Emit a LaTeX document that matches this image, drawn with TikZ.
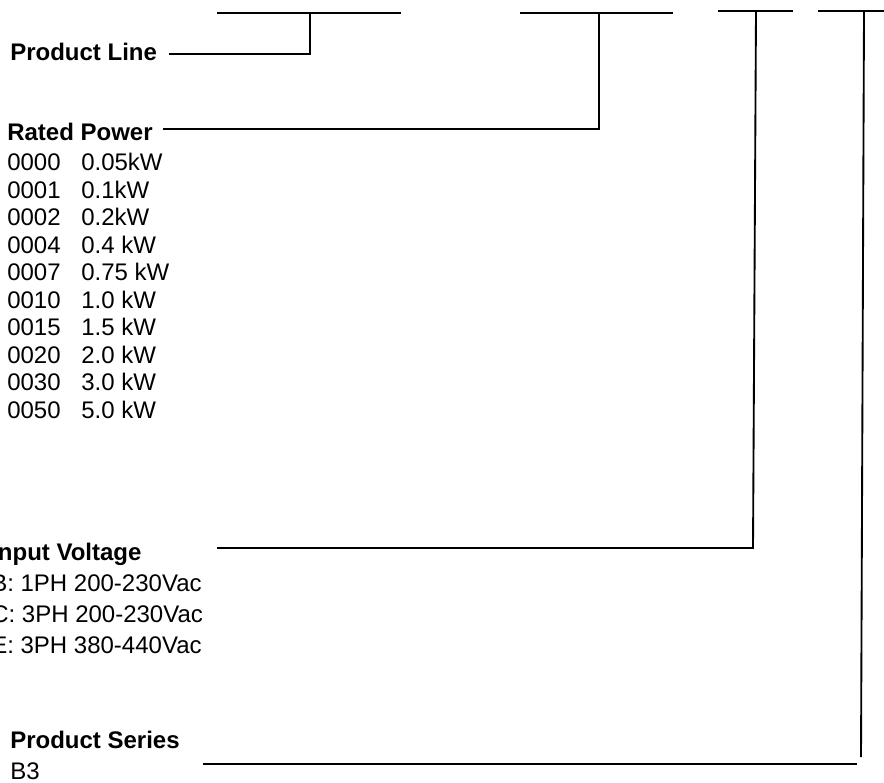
\documentclass[tikz,border=0pt]{standalone}
\usepackage{fontspec}
\setmainfont{Liberation Sans}
\usetikzlibrary{positioning}
\tikzset{
  head/.style={anchor=base west, inner sep=0pt, font=\fontsize{18}{21}\selectfont\bfseries},
  item/.style={anchor=base west, inner sep=0pt, font=\fontsize{18}{21}\selectfont},
  bar/.style={line width=2pt},
  lead/.style={line width=1.4pt},
}

\begin{document}
\begin{tikzpicture}[x=0.75pt,y=-0.75pt]
  \useasboundingbox (0,0) rectangle (884,782);
  \clip (0,0) rectangle (884,782);

  % segments of the type code along the top
  \coordinate (s1a) at (217,13);  \coordinate (s1b) at (401,13);
  \coordinate (s2a) at (520,13);  \coordinate (s2b) at (673,13);
  \coordinate (s3a) at (718,11);  \coordinate (s3b) at (793,11);
  \coordinate (s4a) at (818,11);  \coordinate (s4b) at (884,11);
  \draw[bar] (s1a) -- (s1b);
  \draw[bar] (s2a) -- (s2b);
  \draw[bar] (s3a) -- (s3b);
  \draw[bar] (s4a) -- (s4b);

  % taps and knees
  \coordinate (t1) at (310,13);  \coordinate (k1) at (310,54);
  \coordinate (t2) at (599,13);  \coordinate (k2) at (599,129);
  \coordinate (t3) at (756,11);  \coordinate (k3) at (753,548);
  \coordinate (t4) at (864,11);  \coordinate (k4) at (861,757);

  % product line
  \node[head] (line) at (10,60) {Product Line};
  \coordinate (e1) at (169,54);
  \draw[lead] (e1) -- (k1) -- (t1);

  % rated power
  \node[head] (power) at (7,140.6) {Rated Power};
  \foreach \code/\kw [count=\i from 0] in {0000/0.05kW, 0001/0.1kW, 0002/0.2kW,
      0004/0.4 kW, 0007/0.75 kW, 0010/1.0 kW, 0015/1.5 kW, 0020/2.0 kW,
      0030/3.0 kW, 0050/5.0 kW} {
    \node[item] (code\i) at (7,{170.6+27.5*\i}) {\code};
    \node[item] (kw\i) at (81,{170.6+27.5*\i}) {\kw};
  }
  \coordinate (e2) at (163,129);
  \draw[lead] (e2) -- (k2) -- (t2);

  % input voltage
  \node[head] (volt) at (-9,560) {Input Voltage};
  \foreach \v [count=\i] in {B: 1PH 200-230Vac, C: 3PH 200-230Vac, E: 3PH 380-440Vac}
    \node[item] (volt\i) at (-9,{560+31*\i}) {\v};
  \coordinate (e3) at (217,548);
  \draw[lead] (e3) -- (k3) -- (t3);

  % product series
  \node[head] (series) at (10,748.6) {Product Series};
  \node[item] (b3) at (10,779.6) {B3};
  \coordinate (e4) at (203,764);  \coordinate (f4) at (857,764);
  \draw[lead] (e4) -- (f4);
  \draw[lead] (k4) -- (t4);
\end{tikzpicture}
\end{document}
